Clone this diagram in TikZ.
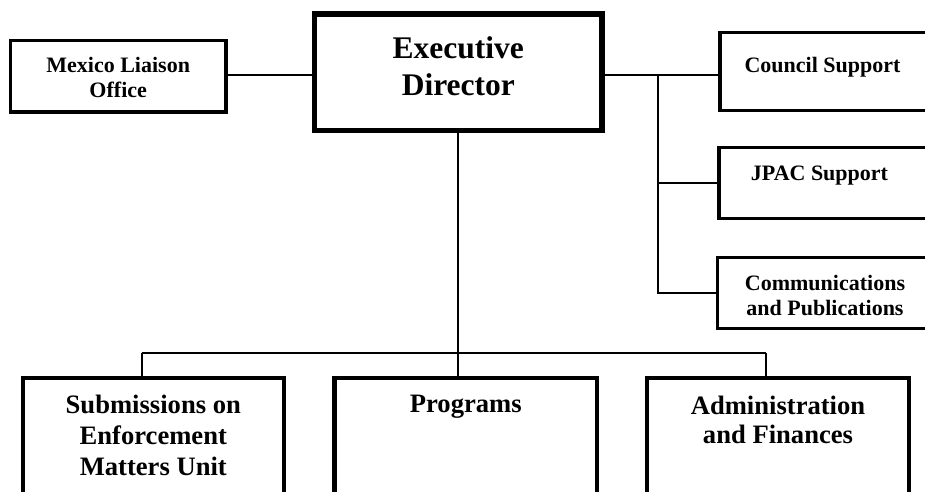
\documentclass[tikz,border=0pt]{standalone}
\usepackage{fontspec}
\setmainfont{Liberation Serif}

\begin{document}
\begin{tikzpicture}
[
x=1pt, y=-1pt,
unit/.style={draw, line width=3.3pt, inner sep=0pt, outer sep=0pt},
head/.style={unit, line width=5.8pt, minimum width=287.7pt, minimum height=116.8pt},
side/.style={unit, minimum width=220pt, minimum height=71pt},
dept/.style={unit, line width=4.3pt, minimum height=162pt},
title/.style={anchor=north, align=center, inner sep=0pt},
smalltext/.style={font=\fontsize{22}{25}\selectfont\bfseries},
depttext/.style={font=\fontsize{26.6}{30.8}\selectfont\bfseries},
headtext/.style={font=\fontsize{31.5}{37}\selectfont\bfseries},
link/.style={line width=2pt},
]

\useasboundingbox (0,0) rectangle (925,491);
\clip (0,0) rectangle (925,491);

\node (ed) [head, label={[title, headtext, yshift=-22.3pt]north:{Executive\\Director}}] at (458.3,72.1) {};
\node (mexico) [side, minimum width=215.7pt, minimum height=71.3pt, label={[title, smalltext, yshift=-16pt]north:{Mexico Liaison\\Office}}] at (118.2,76.3) {};
\node (council) [side, minimum height=77.6pt, label={[title, smalltext, xshift=-7.5pt, yshift=-24pt]north:Council Support}] at (830,71.5) {};
\node (jpac) [side, label={[title, smalltext, xshift=-9.5pt, yshift=-18.4pt]north:JPAC Support}] at (829,182.8) {};
\node (comm) [side, minimum height=71.2pt, label={[title, smalltext, xshift=-2.5pt, yshift=-17.5pt]north:{Communications\\and Publications}}] at (827.5,293.1) {};

\node (sem) [dept, minimum width=261pt, label={[title, depttext, yshift=-17.2pt]north:{Submissions on\\Enforcement\\Matters Unit}}] at (153.3,458.8) {};
\node (prog) [dept, minimum width=262.7pt, label={[title, depttext, yshift=-17.2pt]north:Programs}] at (465.8,458.8) {};
\node (admin) [dept, minimum width=261.6pt, label={[title, depttext, yshift=-18.5pt]north:{Administration\\[-2.5pt]and Finances}}] at (778,458.8) {};

\coordinate (trunk) at (658.3,75.3);
\coordinate (bus) at (458.3,352.8);
\coordinate (busl) at (141.7,352.8);
\coordinate (busr) at (766,352.8);

\draw [link] (mexico.east |- trunk) -- (ed.west |- trunk);
\draw [link] (ed.east |- trunk) -- (council.west |- trunk);
\draw [link] (trunk) |- (comm.west);
\draw [link] (trunk |- jpac.west) -- (jpac.west);
\draw [link] (ed.south) -- (bus);
\draw [link] (busl) -- (busr);
\foreach \src/\dst in {busl/sem, bus/prog, busr/admin}
  \draw [link] (\src) -- (\src |- \dst.north);
\end{tikzpicture}
\end{document}
